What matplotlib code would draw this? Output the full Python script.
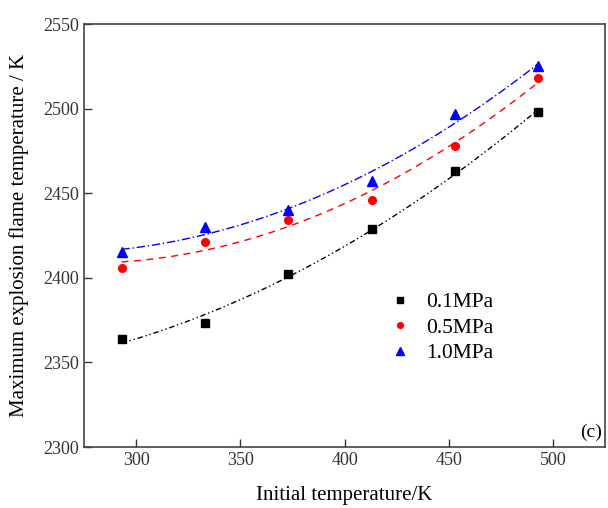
import numpy as np
import matplotlib.pyplot as plt

plt.rcParams['font.family'] = ['Liberation Serif', 'DejaVu Serif']

temp = [293, 333, 373, 413, 453, 493]
p01 = [2364, 2373, 2402, 2429, 2463, 2498]
p05 = [2406, 2421, 2434, 2446, 2478, 2518]
p10 = [2415, 2430, 2440, 2457, 2497, 2525]
labels = ['0.1MPa', '0.5MPa', '1.0MPa']

fig = plt.figure(figsize=(6.08, 5.08), dpi=100)
ax = fig.add_axes([84/608, 61/508, 521/608, 423/508])

xs = np.linspace(293, 493, 100)

# fitted trend lines
styles = [
    ('black', 's', (0, (4, 2, 1, 2, 1, 2)), 5.5),
    ('red', 'o', (0, (5, 4)), 5.5),
    ('blue', '^', (0, (6, 2, 1, 2)), 7),
]
for y, lab, (c, m, ls, ms) in zip([p01, p05, p10], labels, styles):
    coef = np.polyfit(temp, y, 2)
    ax.plot(xs, np.polyval(coef, xs), color=c, ls=ls, lw=1.0)
    ax.plot(temp, y, m, color=c, ms=ms, ls='none', label=lab)

ax.set_xlim(275, 525)
ax.set_ylim(2300, 2550)
ax.set_xticks([300, 350, 400, 450, 500])
ax.set_yticks([2300, 2350, 2400, 2450, 2500, 2550])
ax.tick_params(direction='in', length=6, width=1, labelsize=13, colors='#333333')
for s in ax.spines.values():
    s.set_linewidth(1.2)
    s.set_color('#444444')

ax.set_xlabel('Initial temperature/K', fontsize=15, labelpad=12)
ax.set_ylabel('Maximum explosion flame temperature / K', fontsize=15, labelpad=10)

ax.legend(loc='upper left', bbox_to_anchor=(0.537, 0.412), frameon=False,
          fontsize=15.5, handletextpad=0.4, handlelength=1.6,
          labelspacing=0.25, markerscale=0.75)
ax.text(0.995, 0.015, '(c)', transform=ax.transAxes, ha='right', va='bottom', fontsize=14)

fig.savefig('out.png', dpi=100)
